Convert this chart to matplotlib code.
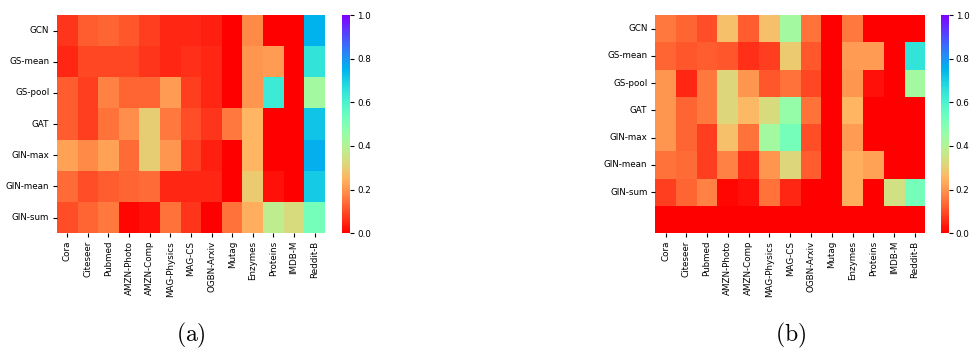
import numpy as np
import matplotlib
matplotlib.use('Agg')
import matplotlib.pyplot as plt
import seaborn as sns

plt.rcParams['mathtext.fontset'] = 'cm'

modelos = ['GCN', 'GS-mean', 'GS-pool', 'GAT', 'GIN-max', 'GIN-mean', 'GIN-sum']
datasets = ['Cora', 'Citeseer', 'Pubmed', 'AMZN-Photo', 'AMZN-Comp', 'MAG-Physics',
            'MAG-CS', 'OGBN-Arxiv', 'Mutag', 'Enzymes', 'Proteins', 'IMDB-M', 'Reddit-B']

valores_a = [
    [0.07, 0.12, 0.13, 0.11, 0.08, 0.05, 0.05, 0.04, 0.00, 0.18, 0.00, 0.00, 0.75],
    [0.05, 0.09, 0.09, 0.09, 0.07, 0.05, 0.06, 0.05, 0.00, 0.20, 0.21, 0.00, 0.65],
    [0.12, 0.08, 0.17, 0.13, 0.13, 0.21, 0.08, 0.05, 0.00, 0.20, 0.63, 0.00, 0.43],
    [0.12, 0.08, 0.15, 0.19, 0.30, 0.16, 0.10, 0.07, 0.16, 0.25, 0.00, 0.00, 0.72],
    [0.22, 0.18, 0.22, 0.14, 0.30, 0.20, 0.08, 0.04, 0.00, 0.25, 0.00, 0.00, 0.76],
    [0.14, 0.10, 0.12, 0.13, 0.14, 0.05, 0.05, 0.05, 0.00, 0.29, 0.02, 0.00, 0.71],
    [0.10, 0.13, 0.16, 0.01, 0.02, 0.15, 0.07, 0.00, 0.15, 0.24, 0.38, 0.33, 0.52],
]

# valores leidos del mapa (b), la ultima fila no tiene etiqueta
valores_b = [
    [0.16, 0.13, 0.10, 0.27, 0.12, 0.27, 0.43, 0.15, 0.00, 0.16, 0.00, 0.00, 0.00],
    [0.13, 0.11, 0.12, 0.11, 0.06, 0.08, 0.29, 0.11, 0.00, 0.21, 0.21, 0.00, 0.65],
    [0.20, 0.05, 0.16, 0.32, 0.20, 0.11, 0.15, 0.09, 0.00, 0.20, 0.02, 0.00, 0.43],
    [0.20, 0.13, 0.16, 0.32, 0.26, 0.33, 0.46, 0.15, 0.00, 0.25, 0.00, 0.00, 0.00],
    [0.20, 0.13, 0.08, 0.27, 0.15, 0.43, 0.52, 0.10, 0.00, 0.21, 0.00, 0.00, 0.00],
    [0.15, 0.14, 0.08, 0.17, 0.06, 0.20, 0.32, 0.12, 0.00, 0.24, 0.22, 0.00, 0.00],
    [0.08, 0.13, 0.17, 0.01, 0.02, 0.15, 0.05, 0.00, 0.00, 0.24, 0.00, 0.34, 0.52],
    [0.00, 0.00, 0.00, 0.00, 0.00, 0.00, 0.00, 0.00, 0.00, 0.00, 0.00, 0.00, 0.00],
]

fig = plt.figure(figsize=(9.72, 3.49), dpi=100)

# posiciones de los ejes en fraccion de figura
ax_a = fig.add_axes([0.0586, 0.332, 0.2757, 0.625])
cb_a = fig.add_axes([0.352, 0.332, 0.0082, 0.625])
ax_b = fig.add_axes([0.674, 0.332, 0.278, 0.625])
cb_b = fig.add_axes([0.968, 0.332, 0.0082, 0.625])

for ax, cax, datos, etiqueta in [(ax_a, cb_a, valores_a, '(a)'), (ax_b, cb_b, valores_b, '(b)')]:
    sns.heatmap(np.array(datos), ax=ax, cbar_ax=cax, cmap='rainbow_r', vmin=0, vmax=1)
    ax.set_xticks(np.arange(len(datasets)) + 0.5)
    ax.set_xticklabels(datasets, rotation=90, fontsize=6.3)
    ax.set_yticks(np.arange(len(modelos)) + 0.5)
    ax.set_yticklabels(modelos, rotation=0, fontsize=6.3)
    ax.tick_params(length=3, width=0.8, pad=2.5)
    cax.tick_params(labelsize=6.3, length=3, pad=2)
    cax.set_yticks([0.0, 0.2, 0.4, 0.6, 0.8, 1.0])
    x_centro = (ax.get_position().x0 + ax.get_position().x1) / 2
    fig.text(x_centro, 0.04, r'$\mathrm{' + etiqueta + '}$', ha='center', va='center', fontsize=17)

plt.savefig('out.png', dpi=100)
